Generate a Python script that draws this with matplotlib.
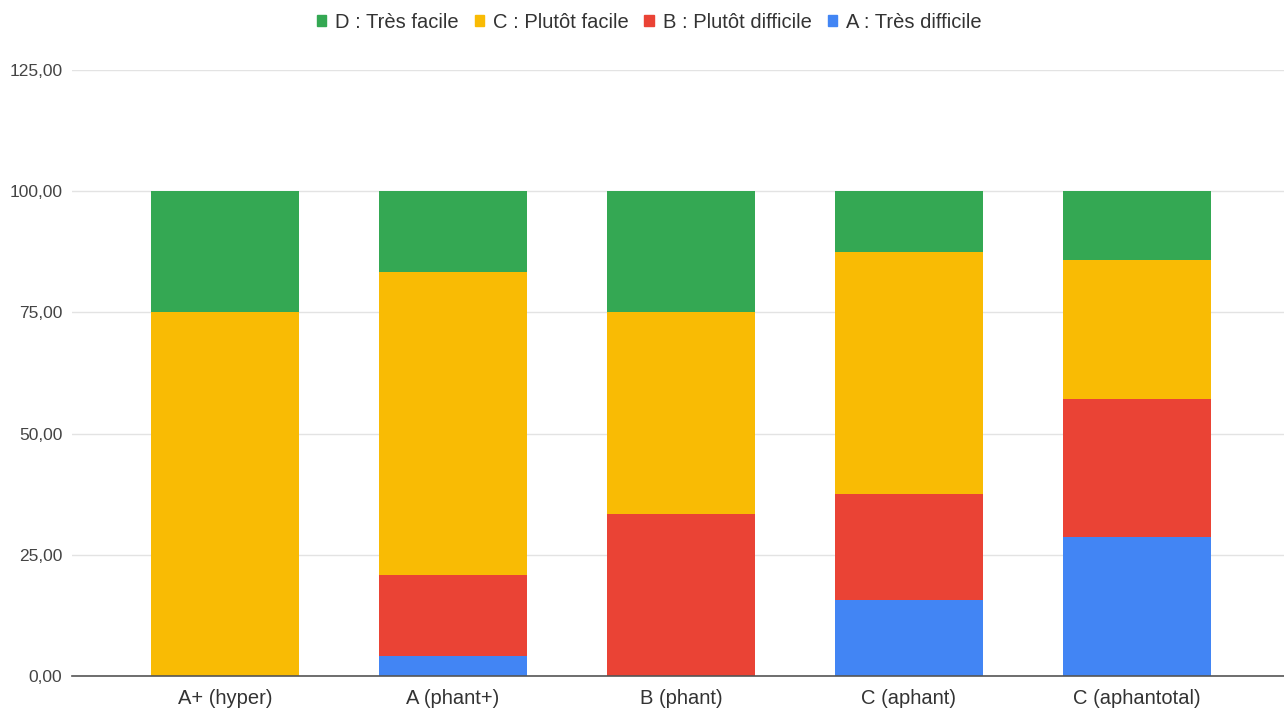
import matplotlib
matplotlib.use("Agg")
import matplotlib.pyplot as plt
from matplotlib.patches import Patch
import numpy as np

categories = ["A+ (hyper)", "A (phant+)", "B (phant)", "C (aphant)", "C (aphantotal)"]
series_names = ["A : Très difficile", "B : Plutôt difficile", "C : Plutôt facile", "D : Très facile"]
a_tres_difficile = [0.0, 4.17, 0.0, 15.625, 28.57]
b_plutot_difficile = [0.0, 16.67, 33.33, 21.875, 28.57]
c_plutot_facile = [75.0, 62.5, 41.67, 50.0, 28.57]
d_tres_facile = [25.0, 16.67, 25.0, 12.5, 14.29]
y_ticks = [0, 25, 50, 75, 100, 125]
y_tick_labels = ["0,00", "25,00", "50,00", "75,00", "100,00", "125,00"]

colors = ["#4285F4", "#EA4335", "#F9BB04", "#34A853"]

plt.rcParams['font.family'] = ['Liberation Sans', 'DejaVu Sans']

fig = plt.figure(figsize=(12.84, 7.08), dpi=100)
ax = fig.add_axes([72/1284, 32/708, (1284-72)/1284, (676-70)/708])

x = np.arange(len(categories))
width = 0.65
bottom = np.zeros(len(categories))
data = [a_tres_difficile, b_plutot_difficile, c_plutot_facile, d_tres_facile]
for vals, col in zip(data, colors):
    vals = np.array(vals)
    ax.bar(x, vals, width, bottom=bottom, color=col, zorder=3, linewidth=0)
    bottom += vals

ax.set_xlim(-0.671, 4.645)
ax.set_ylim(0, 125)
ax.set_yticks(y_ticks)
ax.set_yticklabels(y_tick_labels)
ax.set_xticks(x)
ax.set_xticklabels(categories)
ax.grid(axis='y', color='#e3e3e3', linewidth=1, zorder=0)
for s in ['top', 'right', 'left']:
    ax.spines[s].set_visible(False)
ax.spines['bottom'].set_color('#555555')
ax.spines['bottom'].set_linewidth(1.2)
ax.spines['bottom'].set_zorder(4)
ax.tick_params(axis='y', length=0, pad=7, labelsize=12.5, labelcolor='#444444')
ax.tick_params(axis='x', length=0, pad=9, labelsize=14.5, labelcolor='#333333')

handles = [Patch(color=colors[i]) for i in [3, 2, 1, 0]]
labels = [series_names[i] for i in [3, 2, 1, 0]]
fig.legend(handles, labels, loc='center', bbox_to_anchor=(649/1284, 1 - 22/708), ncol=4,
           frameon=False, fontsize=14.5, handlelength=0.45, handleheight=0.45,
           handletextpad=0.45, columnspacing=0.8, labelcolor='#333333')

fig.savefig("out.png", dpi=100, facecolor='white')
